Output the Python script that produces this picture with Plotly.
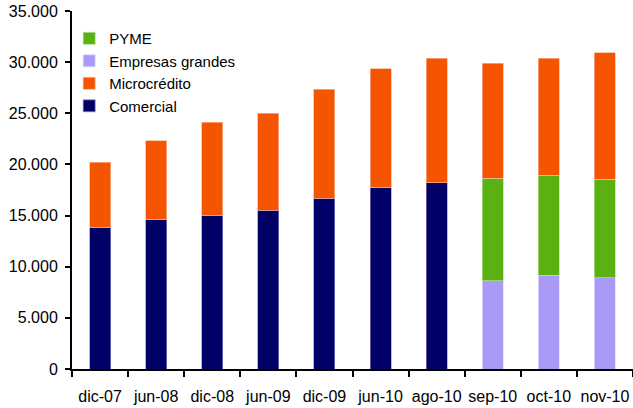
import plotly.graph_objects as go

# Cartera por tipo de crédito (millones)
periodos = ["dic-07", "jun-08", "dic-08", "jun-09", "dic-09",
            "jun-10", "ago-10", "sep-10", "oct-10", "nov-10"]
comercial = [13830, 14610, 15000, 15530, 16670, 17740, 18230, None, None, None]
empresas_grandes = [None, None, None, None, None, None, None, 8630, 9190, 8900]
pyme = [None, None, None, None, None, None, None, 10020, 9750, 9650]
microcredito = [6380, 7710, 9120, 9490, 10700, 11610, 12130, 11220, 11420, 12360]

y_ticks = [0, 5000, 10000, 15000, 20000, 25000, 30000, 35000]

# (name, values, fill, edge, legend position)
series = [
    ("Comercial", comercial, "#000066", "rgba(140,140,200,0.8)", 4),
    ("Empresas grandes", empresas_grandes, "#A99BF5", "rgba(225,220,252,0.9)", 2),
    ("PYME", pyme, "#5BB012", "rgba(180,225,150,0.9)", 1),
    ("Microcrédito", microcredito, "#F55400", "rgba(250,180,150,0.9)", 3),
]

fig = go.Figure()
for name, vals, color, edge, rank in series:
    fig.add_trace(go.Bar(
        name=name, x=periodos, y=vals, legendrank=rank,
        marker=dict(color=color, line=dict(color=edge, width=0.8)),
    ))

fig.update_layout(
    barmode="stack",
    bargap=0.625,
    width=633, height=408,
    margin=dict(l=72, r=0, t=11, b=39),
    paper_bgcolor="white", plot_bgcolor="white",
    separators=",.",
    font=dict(family="Liberation Sans, Arial, sans-serif", size=16, color="#000000"),
    showlegend=True,
    legend=dict(
        x=-0.005, y=0.969, xanchor="left", yanchor="top",
        traceorder="normal",
        bgcolor="rgba(0,0,0,0)", font=dict(size=15),
        itemwidth=30, tracegroupgap=0,
    ),
    xaxis=dict(
        type="category", range=[-0.5, 9.5], tickangle=0,
        showline=True, linecolor="#000000", linewidth=2,
        ticks="outside", tickson="boundaries", ticklen=6,
        tickcolor="#000000", tickwidth=1.5, ticklabelstandoff=12,
        showgrid=False, zeroline=False,
    ),
    yaxis=dict(
        range=[0, 35000], tickvals=y_ticks, tickformat=",d",
        showline=True, linecolor="#000000", linewidth=2,
        ticks="outside", ticklen=5, tickcolor="#000000", tickwidth=1.5,
        ticklabelstandoff=4,
        showgrid=False, zeroline=False,
    ),
)

fig.write_html("out.html")
